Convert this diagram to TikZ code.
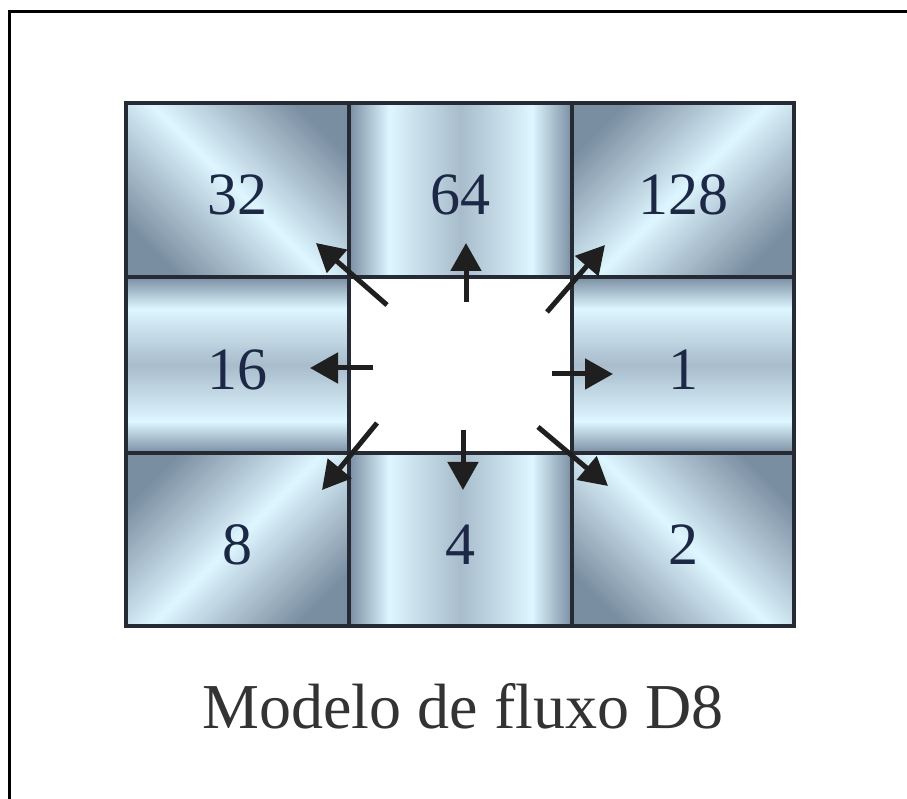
\documentclass[tikz,border=0pt]{standalone}
\usepackage{fontspec}
\setmainfont{Liberation Serif}
\usetikzlibrary{arrows.meta,positioning,calc}
\definecolor{D8dark}{HTML}{7A8EA2}
\definecolor{D8mid}{HTML}{A8BCCB}
\definecolor{D8light}{HTML}{DDF6FF}
\definecolor{D8line}{HTML}{262A35}
\definecolor{D8text}{HTML}{1C2845}
\pgfdeclarehorizontalshading{colband}{100bp}{color(0bp)=(D8dark); color(25bp)=(D8dark); color(34bp)=(D8light); color(50bp)=(D8mid); color(66bp)=(D8light); color(75bp)=(D8dark); color(100bp)=(D8dark)}
\pgfdeclareverticalshading{rowband}{100bp}{color(0bp)=(D8dark); color(25bp)=(D8dark); color(34bp)=(D8light); color(50bp)=(D8mid); color(66bp)=(D8light); color(75bp)=(D8dark); color(100bp)=(D8dark)}
\pgfdeclarehorizontalshading{diagband}{100bp}{color(0bp)=(D8dark); color(24bp)=(D8dark); color(36bp)=(D8mid); color(50bp)=(D8light); color(64bp)=(D8mid); color(76bp)=(D8dark); color(100bp)=(D8dark)}
\tikzset{
  cell/.style={draw=D8line,line width=4pt,outer sep=0pt,inner sep=0pt,text height=50pt,text depth=0pt,text=D8text,font=\fontsize{60}{72}\selectfont},
  colcell/.style={cell,shade,shading=colband},
  rowcell/.style={cell,shade,shading=rowband},
  diagcell/.style={cell,shade,shading=diagband,shading angle=#1},
  flow/.style={line width=5pt,draw=black!88,-{Triangle[length=28pt,width=30pt]}}
}

\begin{document}
\begin{tikzpicture}[x=1pt,y=1pt]
  \useasboundingbox (0,0) rectangle (907,798);
  % frame
  \draw[line width=3.5pt] (910,786.5) -- (9.5,786.5) -- (9.5,-5);
  % centre cell and its eight neighbours
  \node[cell,fill=white,minimum width=223pt,minimum height=176pt] (mid) at (460.5,433) {};
  \node[colcell,minimum width=223pt,minimum height=174pt,above=0pt of mid] (c64) {64};
  \node[colcell,minimum width=223pt,minimum height=173pt,below=0pt of mid] (c4) {4};
  \node[rowcell,minimum width=223.5pt,minimum height=176pt,left=0pt of mid] (c16) {16};
  \node[rowcell,minimum width=222pt,minimum height=176pt,right=0pt of mid] (c1) {1};
  \node[diagcell=45,minimum width=223.5pt,minimum height=174pt,left=0pt of c64] (c32) {32};
  \node[diagcell=-45,minimum width=222pt,minimum height=174pt,right=0pt of c64] (c128) {128};
  \node[diagcell=-45,minimum width=223.5pt,minimum height=173pt,left=0pt of c4] (c8) {8};
  \node[diagcell=45,minimum width=222pt,minimum height=173pt,right=0pt of c4] (c2) {2};
  % flow directions
  \draw[flow] ($(mid.north)+(5.5,-25)$) -- ($(mid.north)+(5.5,34)$);
  \draw[flow] ($(mid.south)+(2.5,23)$) -- ($(mid.south)+(2.5,-37)$);
  \draw[flow] ($(mid.west)+(24,-3)$) -- ($(mid.west)+(-39,-3)$);
  \draw[flow] ($(mid.east)+(-20,-9)$) -- ($(mid.east)+(41,-9)$);
  \draw[flow] ($(mid.north west)+(38,-28)$) -- ($(mid.north west)+(-33,34)$);
  \draw[flow] ($(mid.north east)+(-25,-35)$) -- ($(mid.north east)+(33,32)$);
  \draw[flow] ($(mid.south west)+(28,30)$) -- ($(mid.south west)+(-27,-37)$);
  \draw[flow] ($(mid.south east)+(-34,26)$) -- ($(mid.south east)+(36,-33)$);
  \node[anchor=base,text=black!80,font=\fontsize{64}{76}\selectfont] (title) at (463,70) {Modelo de fluxo D8};
\end{tikzpicture}
\end{document}
